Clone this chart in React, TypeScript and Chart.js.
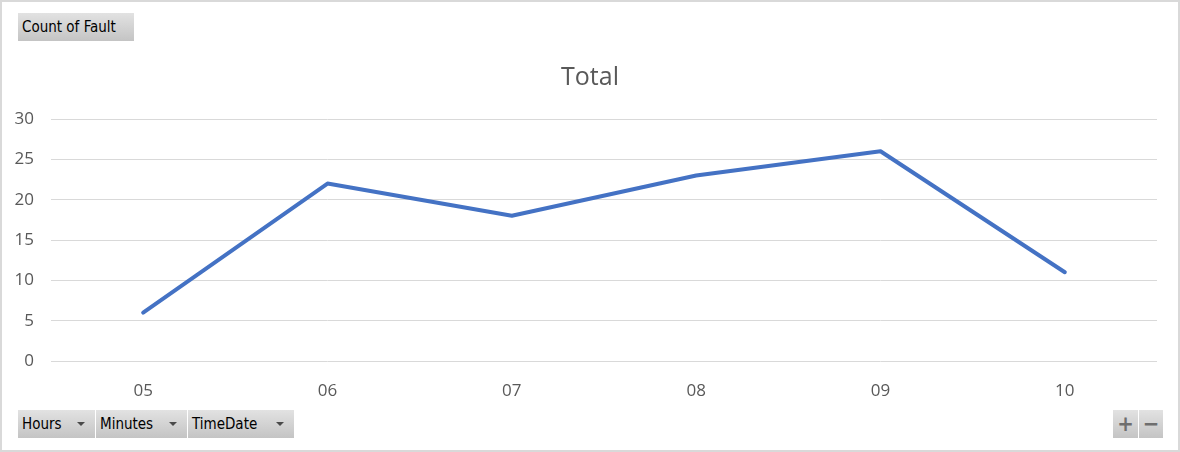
import React, { useEffect, useRef } from "react";
import { Chart, registerables } from "chart.js";

Chart.register(...registerables);

const categories = ["05", "06", "07", "08", "09", "10"];
const totals = [6, 22, 18, 23, 26, 11];
const seriesName = "Total";

const btnStyle: React.CSSProperties = {
  position: "absolute",
  boxSizing: "border-box",
  height: 28,
  background: "linear-gradient(#e2e2e2, #c4c4c4)",
  fontFamily: "'DejaVu Sans Condensed', 'Liberation Sans', Arial, sans-serif",
  fontSize: 15,
  color: "#000",
  lineHeight: "28px",
  paddingLeft: 4,
  whiteSpace: "nowrap",
};

const Arrow = ({ left }: { left: number }) => (
  <div
    style={{
      position: "absolute",
      left,
      top: 12,
      width: 0,
      height: 0,
      borderLeft: "4px solid transparent",
      borderRight: "4px solid transparent",
      borderTop: "4px solid #4a4a4a",
    }}
  />
);

export default function App() {
  const ref = useRef<HTMLCanvasElement>(null);
  useEffect(() => {
    document.body.style.margin = "0";
    const chart = new Chart(ref.current!, {
      type: "line",
      data: {
        labels: categories,
        datasets: [
          {
            label: seriesName,
            data: totals,
            borderColor: "#4472C4",
            borderWidth: 4,
            pointRadius: 0,
            tension: 0,
            borderCapStyle: "round",
            borderJoinStyle: "round",
            fill: false,
          },
        ],
      },
      options: {
        animation: false,
        responsive: false,
        layout: { padding: { top: 119, right: 23, bottom: 0, left: 0 } },
        plugins: {
          legend: { display: false },
          tooltip: { enabled: false },
          title: { display: false },
        },
        scales: {
          x: {
            offset: true,
            grid: { display: false },
            border: { display: false },
            ticks: {
              color: "#595959",
              font: { family: "'Open Sans', sans-serif", size: 17 },
              padding: 12,
            },
            afterFit: (s: any) => {
              s.height = 452 - 361;
            },
          },
          y: {
            min: 0,
            max: 30,
            ticks: {
              stepSize: 5,
              color: "#595959",
              font: { family: "'Open Sans', sans-serif", size: 17 },
              padding: 17,
            },
            grid: { color: "#d9d9d9", lineWidth: 1, drawTicks: false },
            border: { display: false },
            afterFit: (s: any) => {
              s.width = 51;
            },
          },
        },
      },
    });
    return () => chart.destroy();
  }, []);

  return (
    <div
      style={{
        position: "relative",
        width: 1180,
        height: 452,
        boxSizing: "border-box",
        border: "2px solid #d9d9d9",
        background: "#fff",
        overflow: "hidden",
      }}
    >
      <canvas
        ref={ref}
        width={1180}
        height={452}
        style={{ position: "absolute", left: -2, top: -2 }}
      />
      <div
        style={{
          position: "absolute",
          left: 0,
          top: 56,
          width: 1176,
          textAlign: "center",
          fontFamily: "'Open Sans', sans-serif",
          fontSize: 25,
          lineHeight: "34px",
          color: "#595959",
        }}
      >
        {seriesName}
      </div>
      <div style={{ ...btnStyle, left: 16, top: 11, width: 116 }}>Count of Fault</div>
      <div style={{ ...btnStyle, left: 16, top: 408, width: 77 }}>
        Hours
        <Arrow left={59} />
      </div>
      <div style={{ ...btnStyle, left: 94, top: 408, width: 91 }}>
        Minutes
        <Arrow left={73} />
      </div>
      <div style={{ ...btnStyle, left: 186, top: 408, width: 106 }}>
        TimeDate
        <Arrow left={88} />
      </div>
      <div
        style={{
          ...btnStyle,
          left: 1111,
          top: 408,
          width: 25,
          paddingLeft: 0,
          textAlign: "center",
          color: "#6e6e6e",
          fontSize: 22,
          fontWeight: "bold",
        }}
      >
        +
      </div>
      <div
        style={{
          ...btnStyle,
          left: 1137,
          top: 408,
          width: 24,
          paddingLeft: 0,
          textAlign: "center",
          color: "#6e6e6e",
          fontSize: 22,
          fontWeight: "bold",
        }}
      >
        −
      </div>
    </div>
  );
}
